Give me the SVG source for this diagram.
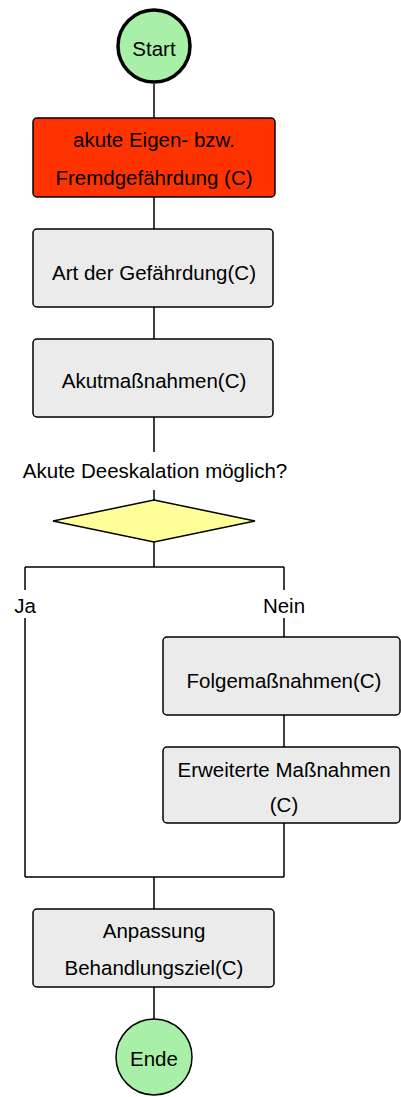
<svg xmlns="http://www.w3.org/2000/svg" width="401" height="1097" viewBox="0 0 401 1097">
<style>
text{font-family:"Liberation Sans",Arial,sans-serif;font-size:20.5px;fill:#000;text-anchor:middle}
.box{fill:#ebebeb;stroke:#000;stroke-width:1.5}
.red{fill:#ff3300;stroke:#000;stroke-width:1.5}
.ln{fill:none;stroke:#000;stroke-width:1.5}
</style>
<rect width="401" height="1097" fill="#fff"/>
<g id="connectors">
<path class="ln" d="M154 84V118M154 197V229M154 307V339M154 417V452M154 490V500M154 542V567M25 567H284M25 567V590M284 567V590M25 618V877M284 618V637M284 715V747M284 823V877M25 877H284M154 877V909M154 987V1019"/>
</g>
<g id="start">
<circle cx="154" cy="46" r="36" fill="#a8f0a8" stroke="#000" stroke-width="3.5"/>
<text x="154" y="56">Start</text>
</g>
<g id="akute">
<rect class="red" x="33" y="118" width="242" height="79" rx="4"/>
<text x="154" y="147">akute Eigen- bzw.</text>
<text x="154" y="185">Fremdgefährdung (C)</text>
</g>
<g id="art">
<rect class="box" x="33" y="229" width="240" height="78" rx="4"/>
<text x="154" y="280">Art der Gefährdung(C)</text>
</g>
<g id="akutmass">
<rect class="box" x="33" y="339" width="240" height="78" rx="4"/>
<text x="154" y="388">Akutmaßnahmen(C)</text>
</g>
<g id="decision">
<text x="155" y="478">Akute Deeskalation möglich?</text>
<polygon points="154,500 255,521 154,542 53,521" fill="#ffff99" stroke="#000" stroke-width="1.5"/>
</g>
<g id="ja"><text x="25" y="613">Ja</text></g>
<g id="nein"><text x="284" y="613">Nein</text></g>
<g id="folge">
<rect class="box" x="163" y="637" width="237" height="78" rx="4"/>
<text x="284" y="688">Folgemaßnahmen(C)</text>
</g>
<g id="erweitert">
<rect class="box" x="163" y="747" width="237" height="76" rx="4"/>
<text x="284" y="777">Erweiterte Maßnahmen</text>
<text x="284" y="812">(C)</text>
</g>
<g id="anpassung">
<rect class="box" x="33" y="909" width="241" height="78" rx="4"/>
<text x="154" y="938">Anpassung</text>
<text x="154" y="975">Behandlungsziel(C)</text>
</g>
<g id="ende">
<circle cx="154" cy="1057" r="38" fill="#a8f0a8" stroke="#000" stroke-width="1.5"/>
<text x="154" y="1066">Ende</text>
</g>
</svg>
